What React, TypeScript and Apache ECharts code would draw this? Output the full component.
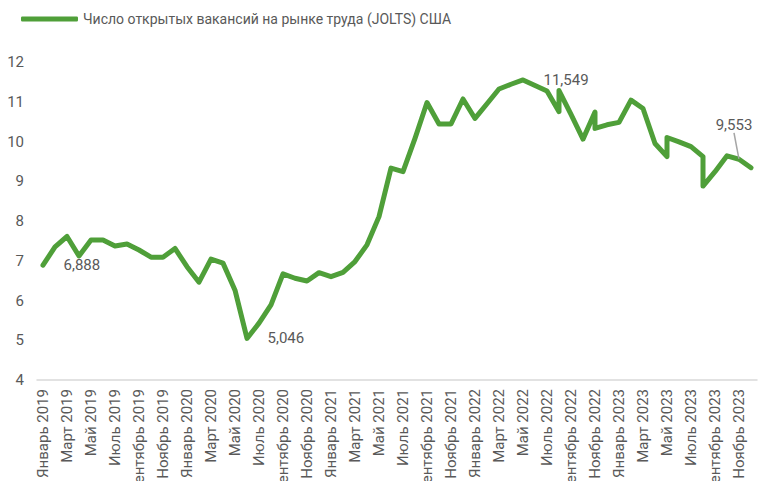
import React, { useEffect, useRef } from 'react';
import * as echarts from 'echarts';

const MONTHS = ['Январь', 'Февраль', 'Март', 'Апрель', 'Май', 'Июнь', 'Июль', 'Август', 'Сентябрь', 'Октябрь', 'Ноябрь', 'Декабрь'];
const YEARS = [2019, 2020, 2021, 2022, 2023];
const categories = YEARS.flatMap((y) => MONTHS.map((m) => `${m} ${y}`));

const SERIES_NAME = 'Число открытых вакансий на рынке труда (JOLTS) США';

// month index (0 = Январь 2019) of each plotted point; some months appear twice (revisions)
const pointMonth = [
  0, 1, 2, 3, 4, 5, 6, 7, 8, 9, 10, 11, 12, 13, 14, 15, 16, 17, 18, 19, 20, 21, 22, 23, 24, 25, 26, 27, 28, 29,
  30, 31, 32, 33, 34, 35, 36, 37, 38, 39, 40, 41, 42, 43, 43, 44, 45, 46, 46, 47, 48, 49, 50, 51, 52, 52, 53, 54,
  55, 55, 56, 57, 58, 59,
];
// job openings, millions
const openings = [
  6.888, 7.35, 7.61, 7.12, 7.52, 7.52, 7.37, 7.42, 7.27, 7.09, 7.09, 7.31, 6.85, 6.46, 7.04, 6.94, 6.26, 5.046,
  5.43, 5.89, 6.67, 6.56, 6.49, 6.7, 6.6, 6.71, 6.98, 7.4, 8.11, 9.33, 9.24, 10.08, 10.98, 10.44, 10.44, 11.07,
  10.58, 10.95, 11.32, 11.44, 11.549, 11.41, 11.27, 10.75, 11.28, 10.68, 10.06, 10.74, 10.33, 10.42, 10.48, 11.04,
  10.83, 9.95, 9.62, 10.1, 9.99, 9.87, 9.62, 8.88, 9.24, 9.64, 9.553, 9.34,
];
// points that carry a value label
const labelRight = [0, 17, 40];
const labelAbove = [62];

const yTicks = { min: 4, max: 12, interval: 1 };

const TEXT = '#595959';
const GREEN = '#4f9f39';
const FONT = 'Roboto, "Noto Sans", sans-serif';

const fmt = (v: number) => v.toFixed(3).replace('.', ',');

export default function App() {
  const ref = useRef<HTMLDivElement>(null);
  useEffect(() => {
    if (!ref.current) return;
    const chart = echarts.init(ref.current, null, { renderer: 'svg' });
    const data = pointMonth.map((m, i) => {
      const item: any = { value: [m, openings[i]] };
      if (labelRight.includes(i)) {
        item.label = { show: true, position: 'right', distance: 20 };
      } else if (labelAbove.includes(i)) {
        item.label = { show: true, position: 'top', distance: 6 };
        item.labelLine = { show: true, lineStyle: { color: '#a6a6a6', width: 1.5 } };
      }
      return item;
    });
    chart.setOption({
      animation: false,
      backgroundColor: '#ffffff',
      textStyle: { fontFamily: FONT },
      legend: {
        data: [SERIES_NAME],
        left: 16,
        top: 7,
        icon: 'roundRect',
        itemWidth: 57,
        itemHeight: 5,
        itemGap: 5,
        textStyle: { color: TEXT, fontSize: 14, fontFamily: FONT },
      },
      grid: { left: 37, right: 6, top: 62, bottom: 101, outerBoundsMode: 'none', containLabel: false },
      xAxis: {
        type: 'category',
        data: categories,
        boundaryGap: true,
        axisLine: { lineStyle: { color: '#d9d9d9', width: 1.5 } },
        axisTick: { interval: 1, length: 4, lineStyle: { color: '#d9d9d9' } },
        axisLabel: { interval: 1, rotate: 90, color: TEXT, fontSize: 15, margin: 9, fontFamily: FONT },
        splitLine: { show: false },
      },
      yAxis: {
        type: 'value',
        min: yTicks.min,
        max: yTicks.max,
        interval: yTicks.interval,
        axisLine: { show: false },
        axisTick: { show: false },
        splitLine: { show: false },
        axisLabel: { color: TEXT, fontSize: 15, margin: 13, fontFamily: FONT },
      },
      series: [
        {
          name: SERIES_NAME,
          type: 'line',
          data,
          symbol: 'circle',
          symbolSize: 1,
          showSymbol: true,
          itemStyle: { color: GREEN },
          lineStyle: { color: GREEN, width: 5, cap: 'round', join: 'round' },
          emphasis: { disabled: true },
          label: {
            show: false,
            color: TEXT,
            fontSize: 15,
            fontFamily: FONT,
            formatter: (p: any) => fmt(p.value[1]),
          },
          labelLayout: (p: any) => (labelAbove.includes(p.dataIndex) ? { dx: -5, dy: -20 } : {}),
        },
      ],
    });
    return () => chart.dispose();
  }, []);
  return <div ref={ref} style={{ position: 'fixed', left: 0, top: 0, width: 763, height: 481 }} />;
}
